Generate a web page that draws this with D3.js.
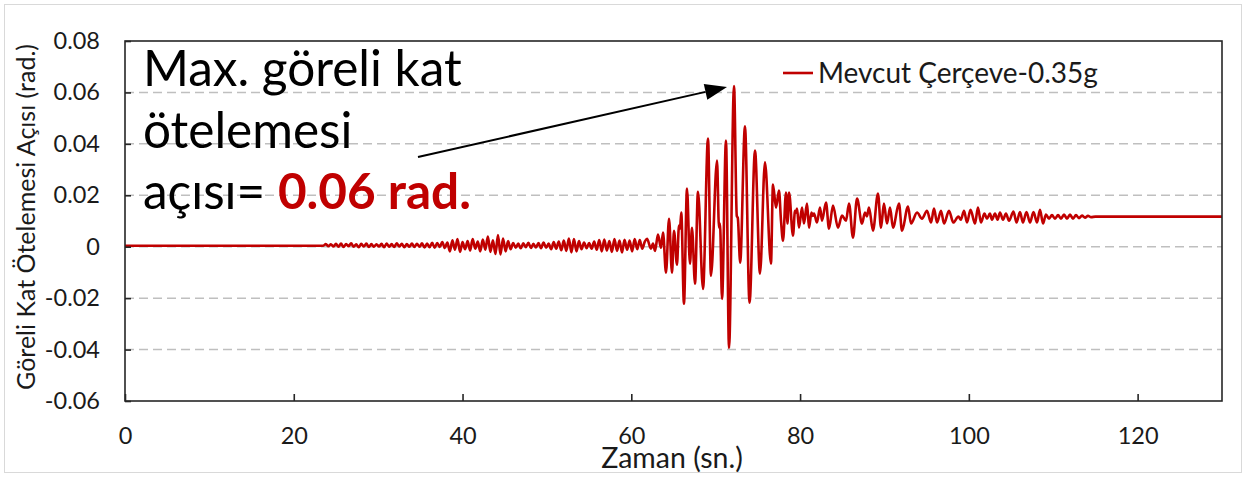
<!DOCTYPE html>
<html>
<head>
<meta charset="utf-8">
<script src="https://cdn.jsdelivr.net/npm/d3@7"></script>
<style>
  body { margin: 0; background: #fff; }
  svg { display: block; }
  text { font-family: Lato, "Noto Sans", sans-serif; }
</style>
</head>
<body>
<svg id="chart" width="1246" height="477"></svg>
<script>
// Axis ticks
const yTicks = [-0.06, -0.04, -0.02, 0, 0.02, 0.04, 0.06, 0.08];
const xTicks = [0, 20, 40, 60, 80, 100, 120];
const seriesName = "Mevcut Çerçeve-0.35g";

// Time history: time (s) and inter-storey drift ratio (rad), read at turning points
const time = [
  0, 23.5,
  23.8, 24.1, 24.4, 24.7, 25.0, 25.3, 25.6, 25.9, 26.2, 26.5, 26.8, 27.1, 27.4, 27.7, 28.0, 28.3, 28.6, 28.9, 29.2, 29.5, 29.8,
  30.1, 30.4, 30.7, 31.0, 31.3, 31.6, 31.9, 32.2, 32.5, 32.8, 33.1, 33.4, 33.7, 34.0, 34.3, 34.6, 34.9, 35.2, 35.5, 35.8,
  36.1, 36.4, 36.7, 37.0, 37.3, 37.6, 37.9, 38.2,
  38.5, 38.8, 39.1, 39.4, 39.7, 40.0, 40.3, 40.6, 40.9, 41.2, 41.5, 41.8, 42.1, 42.4, 42.7, 43.0, 43.3, 43.6, 43.9, 44.2, 44.5, 44.8, 45.1, 45.4, 45.7,
  46.0, 46.3, 46.6, 46.9, 47.2, 47.5, 47.8, 48.1, 48.4, 48.7, 49.0, 49.3, 49.6, 49.9, 50.2,
  50.5, 50.8, 51.1, 51.4, 51.7, 52.0, 52.3, 52.6, 52.9, 53.2, 53.5, 53.8, 54.1, 54.4, 54.7, 55.0, 55.3, 55.6, 55.9, 56.2,
  56.5, 56.8, 57.1, 57.4, 57.7, 58.0, 58.3, 58.6, 58.9, 59.2, 59.5, 59.8, 60.1, 60.4, 60.7, 61.0, 61.3, 61.6,
  61.86, 62.33, 62.57, 62.81, 63.16, 63.52, 63.76, 64.11, 64.47, 64.82, 65.06, 65.41, 65.65, 65.77, 65.92,
  66.24, 66.60, 66.95, 67.19, 67.55, 67.90, 68.50, 69.09, 69.44, 70.16, 70.39, 70.51, 70.75, 71.22, 71.58,
  72.17, 72.50, 72.62, 72.90, 73.47, 74.01, 74.66, 75.25, 75.84, 76.55, 76.79, 77.15, 77.50, 77.74, 77.98,
  78.33, 78.51, 78.69, 79.16, 79.40, 79.52, 79.64, 79.87, 80.23, 80.46, 80.82, 81.06, 81.35, 81.50, 81.65,
  82.00, 82.36, 82.60, 83.07, 83.43, 83.90, 84.49, 84.97, 85.44, 85.80, 86.27, 86.75, 87.34, 87.69, 87.92,
  88.17, 88.64, 89.23, 89.59, 89.94, 90.30, 90.66, 91.01, 91.72, 92.08, 92.79, 93.15, 93.86, 94.45, 95.04,
  95.52, 95.87, 96.23, 96.70, 97.06, 97.65, 98.16, 98.76, 99.05, 99.43, 99.78, 100.20, 100.73, 101.08, 101.44,
  101.85, 102.15, 102.50, 102.74, 103.10, 103.40, 103.69, 104.05, 104.40, 104.76, 105.29, 105.65, 106.06, 106.41, 106.83,
  107.25, 107.66, 108.08, 108.43, 108.79, 109.14, 109.50, 109.85, 110.21, 110.57, 110.92, 111.28, 111.63, 111.99, 112.34,
  112.70, 113.05, 113.41, 113.77, 114.12, 114.48, 115.0, 130
];
const drift = [
  0.0004, 0.0004,
  0.0010, 0.0002, 0.0009, 0.0001, 0.0011, 0.0000, 0.0012, -0.0001, 0.0010, 0.0002, 0.0013, 0.0000, 0.0009, -0.0002, 0.0011, 0.0001, 0.0012, -0.0001, 0.0010, 0.0000, 0.0009,
  0.0001, 0.0011, -0.0002, 0.0012, 0.0000, 0.0010, -0.0001, 0.0013, 0.0001, 0.0011, -0.0002, 0.0010, 0.0000, 0.0012, -0.0001, 0.0011, 0.0000, 0.0013, -0.0003, 0.0012,
  -0.0002, 0.0015, -0.0004, 0.0014, -0.0001, 0.0018, -0.0005, 0.0016,
  -0.0018, 0.0025, -0.0012, 0.0030, -0.0020, 0.0018, -0.0010, 0.0022, -0.0015, 0.0030, -0.0008, 0.0020, -0.0018, 0.0028, -0.0012, 0.0040, -0.0020, 0.0025, -0.0028, 0.0045, -0.0030, 0.0032, -0.0018, 0.0022, -0.0010,
  0.0014, -0.0004, 0.0012, -0.0006, 0.0013, -0.0002, 0.0015, -0.0005, 0.0011, -0.0003, 0.0014, -0.0006, 0.0016, -0.0004, 0.0012,
  -0.0010, 0.0018, -0.0008, 0.0020, -0.0014, 0.0024, -0.0016, 0.0032, -0.0022, 0.0030, -0.0018, 0.0022, -0.0010, 0.0016, -0.0006, 0.0014, -0.0008, 0.0020, -0.0012, 0.0026,
  -0.0018, 0.0028, -0.0015, 0.0022, -0.0020, 0.0030, -0.0016, 0.0024, -0.0022, 0.0027, -0.0012, 0.0024, -0.0018, 0.0030, -0.0010, 0.0026, -0.0008, 0.0020,
  0.0031, -0.0008, 0.0012, -0.0016, 0.0047, -0.0004, 0.0055, -0.0101, 0.0109, -0.0101, 0.0062, -0.0070, 0.0082, 0.0070, 0.0133,
  -0.0222, 0.0226, -0.0066, 0.0074, -0.0144, 0.0214, -0.0164, 0.0421, -0.0113, 0.0335, 0.0074, 0.0090, -0.0203, 0.0413, -0.0394,
  0.0625, 0.0120, 0.0112, -0.0062, 0.0468, -0.0218, 0.0374, -0.0105, 0.0328, -0.0066, 0.0242, 0.0152, 0.0218, 0.0101, 0.0023,
  0.0211, 0.0090, 0.0211, 0.0043, 0.0140, 0.0132, 0.0148, 0.0074, 0.0152, 0.0090, 0.0168, 0.0074, 0.0133, 0.0120, 0.0129,
  0.0094, 0.0152, 0.0101, 0.0172, 0.0070, 0.0160, 0.0074, 0.0121, 0.0101, 0.0168, 0.0035, 0.0187, 0.0090, 0.0133, 0.0118,
  0.0152, 0.0062, 0.0207, 0.0074, 0.0168, 0.0090, 0.0152, 0.0074, 0.0168, 0.0062, 0.0156, 0.0090, 0.0133, 0.0109, 0.0140,
  0.0094, 0.0148, 0.0094, 0.0140, 0.0090, 0.0140, 0.0094, 0.0117, 0.0105, 0.0140, 0.0094, 0.0144, 0.0090, 0.0152, 0.0094,
  0.0129, 0.0109, 0.0129, 0.0105, 0.0129, 0.0105, 0.0133, 0.0105, 0.0129, 0.0101, 0.0137, 0.0094, 0.0135, 0.0094, 0.0135,
  0.0094, 0.0135, 0.0094, 0.0144, 0.0090, 0.0125, 0.0109, 0.0123, 0.0109, 0.0123, 0.0109, 0.0125, 0.0109, 0.0125, 0.0109,
  0.0123, 0.0111, 0.0121, 0.0113, 0.0120, 0.0115, 0.0117, 0.0117
];

const W = 1246, H = 477;
const plot = { left: 125, right: 1222, top: 41, bottom: 401 };
const red = "#C00000";
const ink = "#1a1a1a";

const svg = d3.select("#chart");

// outer chart frame
svg.append("rect")
  .attr("x", 4.5).attr("y", 4.5)
  .attr("width", W - 9).attr("height", H - 9)
  .attr("fill", "#fff").attr("stroke", "#D9D9D9").attr("stroke-width", 1);

const x = d3.scaleLinear().domain([0, 130]).range([plot.left, plot.right]);
const y = d3.scaleLinear().domain([-0.06, 0.08]).range([plot.bottom, plot.top]);

// horizontal dashed grid
svg.append("g")
  .selectAll("line")
  .data(yTicks.filter(d => d > -0.06 && d < 0.08))
  .join("line")
  .attr("x1", plot.left).attr("x2", plot.right)
  .attr("y1", d => y(d)).attr("y2", d => y(d))
  .attr("stroke", "#BFBFBF").attr("stroke-width", 1.5)
  .attr("stroke-dasharray", "9,5");

// series
svg.append("clipPath").attr("id", "plotClip")
  .append("rect")
  .attr("x", plot.left).attr("y", plot.top)
  .attr("width", plot.right - plot.left).attr("height", plot.bottom - plot.top);

const line = d3.line()
  .x(i => x(time[i]))
  .y(i => y(drift[i]))
  .curve(d3.curveMonotoneX);

svg.append("path")
  .attr("clip-path", "url(#plotClip)")
  .attr("d", line(d3.range(time.length)))
  .attr("fill", "none")
  .attr("stroke", red)
  .attr("stroke-width", 2.6)
  .attr("stroke-linejoin", "round");

// plot frame
svg.append("rect")
  .attr("x", plot.left).attr("y", plot.top)
  .attr("width", plot.right - plot.left).attr("height", plot.bottom - plot.top)
  .attr("fill", "none").attr("stroke", "#262626").attr("stroke-width", 1.6);

const fmtY = d => d === 0 ? "0" : d.toFixed(2);

// y axis with inward ticks
const yAxis = svg.append("g")
  .attr("transform", `translate(${plot.left},0)`)
  .call(d3.axisLeft(y).tickValues(yTicks).tickFormat(fmtY).tickSizeInner(-6).tickSizeOuter(0).tickPadding(25));
yAxis.select(".domain").remove();
yAxis.selectAll(".tick line").attr("stroke", "#262626").attr("stroke-width", 1.6);
yAxis.selectAll(".tick text")
  .attr("font-size", 23.5).attr("fill", ink)
  .style("font-family", "Lato, 'Noto Sans', sans-serif");

// x axis with inward ticks
const xAxis = svg.append("g")
  .attr("transform", `translate(0,${plot.bottom})`)
  .call(d3.axisBottom(x).tickValues(xTicks).tickFormat(d3.format("d")).tickSizeInner(-7).tickSizeOuter(0).tickPadding(26));
xAxis.select(".domain").remove();
xAxis.selectAll(".tick line").attr("stroke", "#262626").attr("stroke-width", 1.6);
xAxis.selectAll(".tick text")
  .attr("font-size", 23.5).attr("fill", ink)
  .style("font-family", "Lato, 'Noto Sans', sans-serif");

// axis titles
svg.append("text")
  .attr("x", 672).attr("y", 468)
  .attr("text-anchor", "middle")
  .attr("font-size", 28.5).attr("fill", ink)
  .text("Zaman (sn.)");

svg.append("text")
  .attr("transform", "translate(35,217) rotate(-90)")
  .attr("text-anchor", "middle")
  .attr("font-size", 25).attr("fill", ink)
  .text("Göreli Kat Ötelemesi Açısı (rad.)");

// legend
svg.append("line")
  .attr("x1", 783).attr("x2", 813).attr("y1", 73).attr("y2", 73)
  .attr("stroke", red).attr("stroke-width", 2.6);
svg.append("text")
  .attr("x", 818).attr("y", 83)
  .attr("font-size", 28).attr("fill", ink)
  .text(seriesName);

// peak annotation
const iPeak = d3.maxIndex(drift);
const peakT = time[iPeak], peakV = drift[iPeak];

const note = svg.append("text")
  .attr("font-size", 49.5).attr("fill", "#000");
note.append("tspan").attr("x", 143).attr("y", 86).text("Max. göreli kat");
note.append("tspan").attr("x", 143).attr("y", 148).text("ötelemesi");
note.append("tspan").attr("x", 143).attr("y", 209).text("açısı= ");
note.append("tspan")
  .attr("font-weight", "bold").attr("fill", red)
  .text(`${d3.format(".2f")(peakV)} rad.`);

// arrow toward the maximum
const ax0 = 418, ay0 = 157;
const ax1 = x(peakT) - 7, ay1 = y(peakV) + 1;
const ang = Math.atan2(ay1 - ay0, ax1 - ax0);
const headLen = 22, headHalf = 8;
const bx = ax1 - headLen * Math.cos(ang), by = ay1 - headLen * Math.sin(ang);
svg.append("line")
  .attr("x1", ax0).attr("y1", ay0).attr("x2", bx).attr("y2", by)
  .attr("stroke", "#000").attr("stroke-width", 2);
svg.append("path")
  .attr("d", d3.line()([
    [ax1, ay1],
    [bx - headHalf * Math.sin(ang), by + headHalf * Math.cos(ang)],
    [bx + headHalf * Math.sin(ang), by - headHalf * Math.cos(ang)]
  ]) + "Z")
  .attr("fill", "#000");
</script>
</body>
</html>
